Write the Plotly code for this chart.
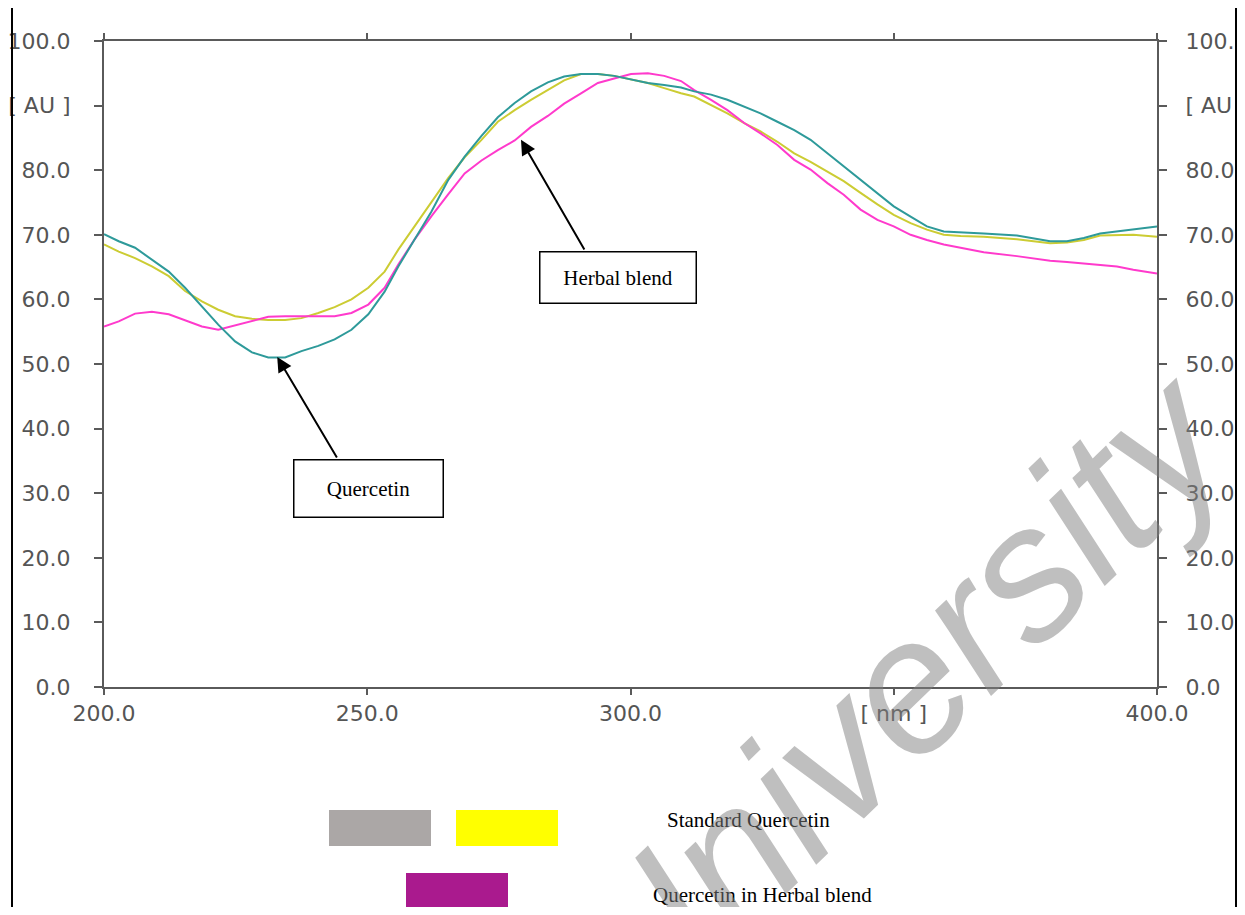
import plotly.graph_objects as go

# wavelength grid [nm]
wavelength = [200.0, 202.8, 205.9, 209.1, 212.3, 215.4, 218.6, 221.7, 224.9, 228.1,
              231.2, 234.4, 237.5, 240.7, 243.8, 247.0, 250.2, 253.3, 255.9, 259.0,
              262.2, 265.4, 268.5, 271.7, 274.8, 278.0, 281.1, 284.3, 287.4, 290.6,
              293.8, 296.9, 300.1, 303.3, 306.4, 309.6, 312.1, 315.3, 318.4, 321.6,
              324.7, 327.9, 331.1, 334.2, 337.4, 340.5, 343.7, 346.9, 350.0, 353.2,
              356.3, 359.5, 362.7, 367.1, 373.4, 379.7, 382.9, 386.1, 389.2, 392.4,
              395.5, 400.0]

# absorbance [AU]
quercetin_teal = [70.1, 69.0, 68.0, 66.1, 64.3, 61.8, 58.9, 56.1, 53.5, 51.8,
                  51.0, 51.0, 52.0, 52.8, 53.8, 55.3, 57.7, 61.2, 65.1, 69.2,
                  73.6, 78.5, 82.1, 85.3, 88.2, 90.4, 92.2, 93.6, 94.5, 94.9,
                  94.9, 94.6, 94.0, 93.5, 93.2, 92.8, 92.2, 91.7, 90.9, 89.8,
                  88.8, 87.5, 86.2, 84.7, 82.6, 80.6, 78.5, 76.5, 74.4, 72.8,
                  71.3, 70.5, 70.4, 70.2, 69.9, 69.0, 69.0, 69.5, 70.2, 70.5,
                  70.8, 71.3]

quercetin_yellow = [68.5, 67.4, 66.4, 65.1, 63.6, 61.3, 59.7, 58.4, 57.4, 57.0,
                    56.8, 56.8, 57.1, 57.9, 58.8, 60.0, 61.8, 64.3, 67.7, 71.3,
                    74.9, 78.8, 82.0, 84.7, 87.5, 89.3, 90.9, 92.4, 93.9, 94.9,
                    94.9, 94.6, 94.1, 93.5, 92.7, 91.9, 91.4, 90.1, 88.8, 87.3,
                    86.0, 84.4, 82.6, 81.3, 79.8, 78.3, 76.5, 74.7, 73.1, 71.8,
                    70.8, 70.0, 69.8, 69.7, 69.3, 68.7, 68.8, 69.2, 69.9, 70.0,
                    70.0, 69.7]

herbal_blend = [55.8, 56.6, 57.8, 58.1, 57.7, 56.8, 55.8, 55.3, 56.0, 56.7,
                57.3, 57.4, 57.4, 57.4, 57.4, 57.9, 59.2, 61.8, 65.4, 69.3,
                72.9, 76.3, 79.5, 81.5, 83.1, 84.6, 86.7, 88.4, 90.3, 91.9,
                93.5, 94.2, 94.9, 95.0, 94.6, 93.8, 92.4, 90.9, 89.3, 87.3,
                85.7, 83.9, 81.6, 80.1, 78.0, 76.2, 73.9, 72.3, 71.3, 70.0,
                69.2, 68.5, 68.0, 67.3, 66.7, 66.0, 65.8, 65.6, 65.4, 65.1,
                64.6, 64.0]

x_ticks = [200, 250, 300, 350, 400]
x_ticktext = ["200.0", "250.0", "300.0", "[ nm ]", "400.0"]
y_ticks = [0, 10, 20, 30, 40, 50, 60, 70, 80, 90, 100]
y_ticktext = ["0.0", "10.0", "20.0", "30.0", "40.0", "50.0", "60.0", "70.0", "80.0", "[ AU ]", "100.0"]

legend_labels = ["Standard Quercetin", "Quercetin in Herbal blend"]

# figure sized to sit inside the page body (8px body margin)
W, H = 1229, 899
OFF = 8
L, R, T, B = 96, 80, 33, 220
PW, PH = W - L - R, H - T - B


def px(x):
    # page pixel -> paper x
    return (x - OFF - L) / PW


def py(y):
    # page pixel -> paper y
    return (H - B - (y - OFF)) / PH


fig = go.Figure()
fig.add_trace(go.Scatter(x=wavelength, y=quercetin_yellow, mode="lines",
                         line=dict(color="#CCCC33", width=2), name="Standard Quercetin"))
fig.add_trace(go.Scatter(x=wavelength, y=herbal_blend, mode="lines",
                         line=dict(color="#FF3ACC", width=2), name="Quercetin in Herbal blend"))
fig.add_trace(go.Scatter(x=wavelength, y=quercetin_teal, mode="lines",
                         line=dict(color="#2E9A9A", width=2), name="Quercetin"))
# right hand axis carries the same scale
fig.add_trace(go.Scatter(x=wavelength, y=quercetin_teal, mode="lines", yaxis="y2",
                         line=dict(color="rgba(0,0,0,0)", width=0), hoverinfo="skip"))

tickfont = dict(family="DejaVu Sans", size=22, color="#555555")
axis_common = dict(showline=True, linecolor="#5a5a5a", linewidth=2, ticks="outside",
                   tickcolor="#5a5a5a", tickwidth=2, showgrid=False, zeroline=False,
                   tickfont=tickfont, automargin=False)

fig.update_layout(
    width=W, height=H,
    margin=dict(l=L, r=R, t=T, b=B, autoexpand=False),
    paper_bgcolor="white", plot_bgcolor="white",
    showlegend=False,
    xaxis=dict(range=[200, 400], tickvals=x_ticks, ticktext=x_ticktext, ticklen=6,
               mirror="ticks", ticklabelstandoff=0, **axis_common),
    yaxis=dict(range=[0, 100], tickvals=y_ticks, ticktext=y_ticktext, ticklen=8,
               ticklabelstandoff=19, **axis_common),
    yaxis2=dict(range=[0, 100], tickvals=y_ticks, ticktext=y_ticktext, ticklen=8,
                overlaying="y", side="right", ticklabelstandoff=14, **axis_common),
)

serif = dict(family="Liberation Serif", size=21, color="black")

# callout boxes
fig.add_annotation(x=297.6, y=63.4, xref="x", yref="y", text="Herbal blend", showarrow=False,
                   font=serif, bgcolor="white", bordercolor="black", borderwidth=1.5,
                   borderpad=0, width=155, height=50)
fig.add_annotation(x=250.2, y=30.7, xref="x", yref="y", text="Quercetin", showarrow=False,
                   font=serif, bgcolor="white", bordercolor="black", borderwidth=1.5,
                   borderpad=0, width=148, height=56)
# arrows
fig.add_annotation(x=279.2, y=84.7, ax=291.4, ay=67.5, xref="x", yref="y", axref="x", ayref="y",
                   text="", showarrow=True, arrowhead=2, arrowsize=1.5, arrowwidth=2,
                   arrowcolor="black")
fig.add_annotation(x=232.9, y=51.1, ax=244.4, ay=35.3, xref="x", yref="y", axref="x", ayref="y",
                   text="", showarrow=True, arrowhead=2, arrowsize=1.5, arrowwidth=2,
                   arrowcolor="black")

# legend swatches below the chart
swatches = [(329, 431, 810, 846, "#ABA7A6"), (456, 558, 810, 846, "#FFFF00"),
            (406, 508, 873, 909, "#AA1A8E")]
for x0, x1, y0, y1, c in swatches:
    fig.add_shape(type="rect", xref="paper", yref="paper", x0=px(x0), x1=px(x1),
                  y0=py(y1), y1=py(y0), fillcolor=c, line=dict(width=0))
fig.add_annotation(x=px(665), y=py(820), xref="paper", yref="paper", text=legend_labels[0],
                   showarrow=False, xanchor="left", yanchor="middle", font=serif)
fig.add_annotation(x=px(651), y=py(895), xref="paper", yref="paper", text=legend_labels[1],
                   showarrow=False, xanchor="left", yanchor="middle", font=serif, height=22)

# table cell borders of the scanned page
for bx in (12, 1236):
    fig.add_shape(type="line", xref="paper", yref="paper", x0=px(bx), x1=px(bx),
                  y0=py(0), y1=py(930), line=dict(color="black", width=2))

# watermark
fig.add_annotation(x=px(897), y=py(695), xref="paper", yref="paper", text="<i>University</i>",
                   showarrow=False, textangle=-44, xanchor="center", yanchor="middle",
                   font=dict(family="Liberation Sans", size=190, color="rgba(128,128,128,0.5)"))

fig.write_html("out.html")
